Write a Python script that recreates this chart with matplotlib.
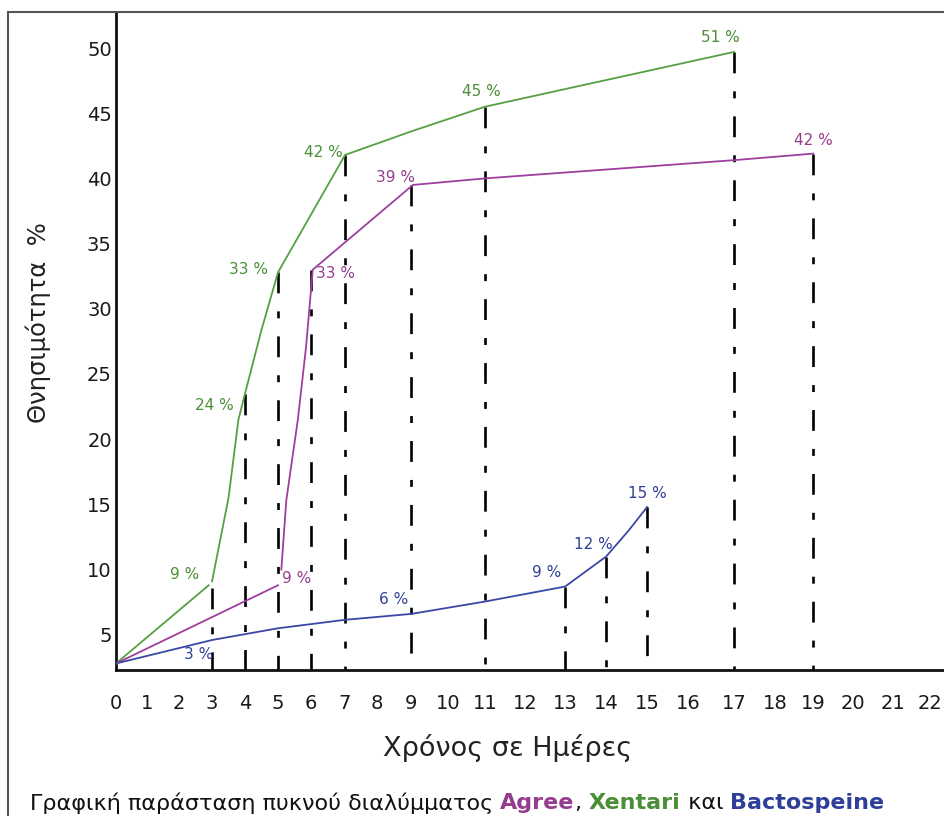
import numpy as np
import matplotlib
matplotlib.use("Agg")
import matplotlib.pyplot as plt
from matplotlib.lines import Line2D

plt.rcParams["lines.scale_dashes"] = False

# ---------------- data ----------------
DAYS_TICKS = list(range(0, 23))
Y_TICKS = [5, 10, 15, 20, 25, 30, 35, 40, 45, 50]

# Xentari (green): two drawn segments
xentari_a_x = [0, 2.9]
xentari_a_y = [2.8, 8.8]
xentari_b_x = [3.0, 3.5, 3.8, 4.0, 4.5, 5.0, 7.0, 9.0, 11.0, 17.0]
xentari_b_y = [9.1, 15.5, 21.5, 23.5, 28.4, 32.8, 41.8, 43.6, 45.5, 49.7]

# Agree (purple): two drawn segments
agree_a_x = [0, 5.0]
agree_a_y = [2.8, 8.8]
agree_b_x = [5.1, 5.25, 5.6, 5.85, 6.05, 9.05, 11.0, 17.0, 19.0]
agree_b_y = [10.0, 15.3, 21.5, 27.1, 33.0, 39.5, 40.0, 41.4, 41.9]

# Bactospeine (blue)
bacto_x = [0, 3, 5, 7, 9, 11, 13, 14, 14.55, 15]
bacto_y = [2.8, 4.6, 5.5, 6.15, 6.6, 7.55, 8.7, 11.0, 13.0, 14.8]

# vertical marker lines: day and height
VLINE_DAYS = [3, 4, 5, 6, 7, 9, 11, 13, 14, 15, 17, 19]
VLINE_TOPS = [8.6, 23.5, 32.8, 33.0, 41.8, 39.5, 45.5, 8.7, 11.0, 14.8, 49.7, 41.9]

# percentage annotations: text, day, value
xentari_labels = ["9 %", "24 %", "33 %", "42 %", "45 %", "51 %"]
xentari_lab_x = [2.18, 3.06, 4.1, 6.35, 10.9, 16.7]
xentari_lab_y = [9.6, 22.6, 33.0, 42.0, 46.7, 50.8]

agree_labels = ["9 %", "33 %", "39 %", "42 %"]
agree_lab_x = [5.57, 6.73, 8.55, 19.0]
agree_lab_y = [9.3, 32.7, 40.1, 42.9]

bacto_labels = ["3 %", "6 %", "9 %", "12 %", "15 %"]
bacto_lab_x = [2.6, 8.5, 12.53, 13.7, 15.0]
bacto_lab_y = [3.5, 7.7, 9.8, 11.9, 15.8]

# ---------------- axis mapping (hand-drawn, non-uniform day spacing) ----------------
SCALE_DAYS = [-1] + DAYS_TICKS + [23]
SCALE_PIX = [83, 116, 147, 179, 212, 245, 278, 311, 345, 377, 411, 448, 485,
             525, 565, 606, 647, 688, 734, 775, 813, 853, 893, 930, 967]


def fwd(x):
    return np.interp(np.asarray(x, dtype=float), SCALE_DAYS, SCALE_PIX)


def inv(p):
    return np.interp(np.asarray(p, dtype=float), SCALE_PIX, SCALE_DAYS)


GREEN = "#55a043"
PURPLE = "#9e3f9e"
BLUE = "#3a48a4"
TXT_GREEN = "#4a8e36"
TXT_PURPLE = "#963c8e"
TXT_BLUE = "#2f3f98"

W, H = 945, 816
fig = plt.figure(figsize=(W / 100, H / 100), dpi=100)
fig.patch.set_facecolor("white")
ax = fig.add_axes([116 / W, 1 - 670 / H, (W - 116) / W, (670 - 12) / H])

ax.set_xscale("function", functions=(fwd, inv))
ax.set_xlim(0, 22.4)
ymin = 50 - (670 - 48) / 13.04
ax.set_ylim(ymin, 50 + (48 - 12) / 13.04)

# vertical dash-dot lines (drawn from the top down like the original)
for d, top in zip(VLINE_DAYS, VLINE_TOPS):
    ax.plot([d, d], [top, ymin], color="black", lw=1.9,
            linestyle=(0, (15, 13, 5, 13)), dash_capstyle="butt", zorder=1)

ax.plot(xentari_a_x, xentari_a_y, color=GREEN, lw=1.3, zorder=3)
ax.plot(xentari_b_x, xentari_b_y, color=GREEN, lw=1.3, zorder=3)
ax.plot(agree_a_x, agree_a_y, color=PURPLE, lw=1.3, zorder=3)
ax.plot(agree_b_x, agree_b_y, color=PURPLE, lw=1.3, zorder=3)
ax.plot(bacto_x, bacto_y, color=BLUE, lw=1.3, zorder=3)

for labs, xs, ys, c in [(xentari_labels, xentari_lab_x, xentari_lab_y, TXT_GREEN),
                        (agree_labels, agree_lab_x, agree_lab_y, TXT_PURPLE),
                        (bacto_labels, bacto_lab_x, bacto_lab_y, TXT_BLUE)]:
    for t, x, y in zip(labs, xs, ys):
        ax.text(x, y, t, color=c, fontsize=11, ha="center", va="center",
                fontfamily="DejaVu Sans", zorder=4)

ax.set_xticks(DAYS_TICKS)
ax.set_xticklabels([str(d) for d in DAYS_TICKS])
ax.set_yticks(Y_TICKS)
ax.set_yticklabels([str(v) for v in Y_TICKS])
ax.tick_params(axis="x", length=0, pad=17, labelsize=14, colors="#1a1a1a")
ax.tick_params(axis="y", length=0, pad=3, labelsize=14, colors="#1a1a1a")
ax.minorticks_off()

for s in ["top", "right"]:
    ax.spines[s].set_visible(False)
for s in ["left", "bottom"]:
    ax.spines[s].set_linewidth(2.0)
    ax.spines[s].set_color("#111111")
ax.patch.set_alpha(0)

# axis titles
fig.text(508 / W, 1 - 748 / H, "Χρόνος σε Ημέρες", fontsize=19.5, ha="center",
         va="center", color="#222222")
fig.text(38 / W, 1 - 323 / H, "Θνησιμότητα  %", fontsize=17.5, rotation=90,
         ha="center", va="center", color="#222222")

# caption with coloured words
parts = [("Γραφική παράσταση πυκνού διαλύμματος ", "#111111", "normal"),
         ("Agree", TXT_PURPLE, "bold"),
         (", ", "#111111", "normal"),
         ("Xentari", TXT_GREEN, "bold"),
         (" και ", "#111111", "normal"),
         ("Bactospeine", TXT_BLUE, "bold")]
prev = fig.text(30 / W, 1 - 803 / H, parts[0][0], fontsize=16, color=parts[0][1],
                fontweight=parts[0][2], ha="left", va="center")
for txt, col, fw in parts[1:]:
    prev = ax.annotate(txt, xy=(1, 0.5), xycoords=prev, ha="left", va="center",
                       fontsize=16, color=col, fontweight=fw,
                       annotation_clip=False)

# outer frame
fig.add_artist(Line2D([8 / W, 8 / W], [0, 1 - 12 / H], color="#555555", lw=1.5))
fig.add_artist(Line2D([8 / W, 1], [1 - 12 / H, 1 - 12 / H], color="#555555", lw=1.5))

fig.savefig("out.png", dpi=100, facecolor="white")
